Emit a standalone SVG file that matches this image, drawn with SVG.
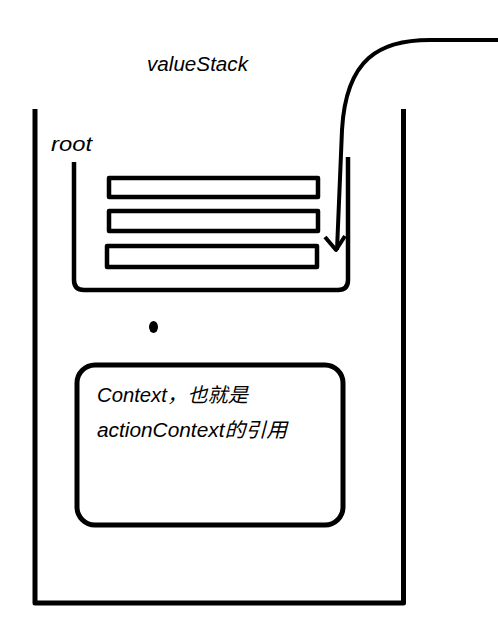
<svg xmlns="http://www.w3.org/2000/svg" width="498" height="623" viewBox="0 0 498 623">
<style>
.s{fill:none;stroke:#000;stroke-linecap:butt;stroke-linejoin:round}
.t{font-family:"Liberation Sans","Noto Sans CJK SC",sans-serif;font-style:italic;font-size:20px;fill:#000}
</style>
<rect width="498" height="623" fill="#fff"/>
<g id="valueStack">
<path class="s" stroke-width="5" d="M35 109 V603 H403.5 V109"/>
<text class="t" x="147" y="71" textLength="101" lengthAdjust="spacingAndGlyphs">valueStack</text>
</g>
<g id="root">
<path class="s" stroke-width="4.5" d="M74 162 V280 Q74 290 84 290 H338 Q348 290 348 280 V157"/>
<text class="t" x="51" y="151" textLength="41" lengthAdjust="spacingAndGlyphs">root</text>
</g>
<g id="item1"><rect class="s" stroke-width="4.5" x="109" y="178" width="209" height="19"/></g>
<g id="item2"><rect class="s" stroke-width="4.5" x="109" y="211" width="209" height="20"/></g>
<g id="item3"><rect class="s" stroke-width="4.5" x="107" y="246" width="210" height="21"/></g>
<g id="dot"><ellipse cx="153.5" cy="327" rx="4.5" ry="6" fill="#000"/></g>
<g id="context">
<rect class="s" stroke-width="5" x="77" y="365" width="266" height="160" rx="18" ry="18"/>
<text class="t" x="97" y="402" textLength="151" lengthAdjust="spacingAndGlyphs">Context，也就是</text>
<text class="t" x="97" y="437" textLength="190" lengthAdjust="spacingAndGlyphs">actionContext的引用</text>
</g>
<g id="connectors">
<path class="s" stroke-width="4" d="M498 40 L430 40 C380 40 346 58 342 130 L337 250"/>
<path class="s" stroke-width="4" d="M325 237 L336 250 L345 236"/>
</g>
</svg>
